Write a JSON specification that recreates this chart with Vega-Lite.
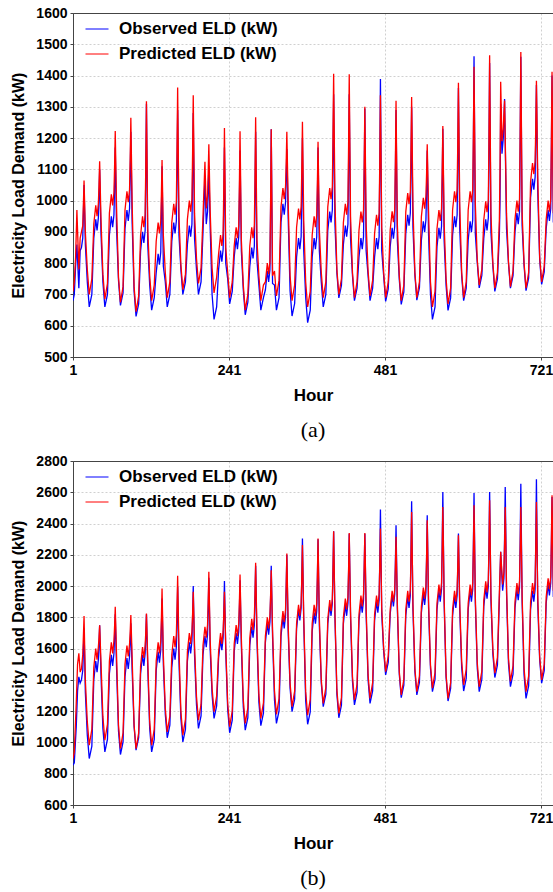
{
"$schema": "https://vega.github.io/schema/vega-lite/v6.json",
"background": "white",
"padding": {"left": 10, "top": 5, "right": 0, "bottom": 0},
"spacing": 11,
"resolve": {"scale": {"x": "independent", "y": "independent", "color": "independent"}, "legend": {"color": "independent"}},
"config": {
 "view": {"stroke": "#444444", "strokeWidth": 1},
 "font": "Liberation Sans",
 "axis": {"labelFont": "Liberation Sans", "labelFontSize": 14, "labelFontWeight": "bold", "labelColor": "black", "titleFont": "Liberation Sans", "titleFontSize": 17, "titleFontWeight": "bold", "titleColor": "black", "domainColor": "#444444", "tickColor": "#444444", "gridColor": "#d0d0d0", "gridDash": [2, 2], "tickSize": 3, "labelPadding": 3, "titlePadding": 10, "labelFlush": false, "labelOverlap": false, "format": "d"},
 "axisY": {"titleFontSize": 16, "titlePadding": 9},
 "legend": {"orient": "none", "legendX": 12, "legendY": 4, "padding": 0, "symbolType": "stroke", "symbolSize": 529, "symbolStrokeWidth": 1, "labelFont": "Liberation Sans", "labelFontSize": 17, "labelFontWeight": "bold", "labelColor": "black", "labelOffset": 10, "rowPadding": 5, "title": null}
},
"datasets": {
"a": [
{"h":1,"o":680,"p":710},{"h":3,"o":700,"p":740},{"h":5,"o":790,"p":820},{"h":7,"o":860,"p":970},{"h":10,"o":720,"p":780},{"h":12,"o":840,"p":880},{"h":14,"o":850,"p":900},{"h":16,"o":880,"p":920},{"h":17,"o":960,"p":990},{"h":18,"o":1050,"p":1064},{"h":20,"o":860,"p":900},{"h":23,"o":740,"p":780},
{"h":26,"o":660,"p":700},{"h":30,"o":700,"p":750},{"h":33,"o":880,"p":925},{"h":36,"o":940,"p":985},{"h":38,"o":905,"p":950},{"h":40,"o":945,"p":990},{"h":41,"o":1012,"p":1048},{"h":42,"o":1100,"p":1126},{"h":44,"o":900,"p":945},{"h":47,"o":740,"p":765},
{"h":50,"o":660,"p":685},{"h":54,"o":700,"p":735},{"h":57,"o":890,"p":960},{"h":60,"o":950,"p":1020},{"h":62,"o":915,"p":985},{"h":64,"o":955,"p":1025},{"h":65,"o":1049,"p":1111},{"h":66,"o":1170,"p":1223},{"h":68,"o":910,"p":980},{"h":71,"o":745,"p":755},
{"h":74,"o":665,"p":675},{"h":78,"o":705,"p":725},{"h":81,"o":910,"p":970},{"h":84,"o":970,"p":1030},{"h":86,"o":935,"p":995},{"h":88,"o":975,"p":1035},{"h":89,"o":1082,"p":1136},{"h":90,"o":1220,"p":1265},{"h":92,"o":930,"p":990},{"h":95,"o":710,"p":725},
{"h":98,"o":630,"p":645},{"h":102,"o":670,"p":695},{"h":105,"o":840,"p":890},{"h":108,"o":900,"p":950},{"h":110,"o":865,"p":915},{"h":112,"o":905,"p":955},{"h":113,"o":1084,"p":1116},{"h":114,"o":1310,"p":1318},{"h":116,"o":860,"p":910},{"h":119,"o":730,"p":760},
{"h":122,"o":650,"p":680},{"h":126,"o":690,"p":730},{"h":129,"o":770,"p":870},{"h":132,"o":830,"p":930},{"h":134,"o":795,"p":895},{"h":136,"o":835,"p":935},{"h":137,"o":956,"p":1020},{"h":138,"o":1110,"p":1130},{"h":140,"o":790,"p":890},{"h":143,"o":740,"p":770},
{"h":146,"o":660,"p":690},{"h":150,"o":700,"p":740},{"h":153,"o":870,"p":930},{"h":156,"o":930,"p":990},{"h":158,"o":895,"p":955},{"h":160,"o":935,"p":995},{"h":161,"o":1092,"p":1157},{"h":162,"o":1290,"p":1362},{"h":164,"o":890,"p":950},{"h":167,"o":780,"p":795},
{"h":170,"o":700,"p":715},{"h":174,"o":740,"p":765},{"h":177,"o":860,"p":940},{"h":180,"o":920,"p":1000},{"h":182,"o":885,"p":965},{"h":184,"o":925,"p":1005},{"h":185,"o":1082,"p":1152},{"h":186,"o":1280,"p":1337},{"h":188,"o":880,"p":960},{"h":191,"o":780,"p":815},
{"h":194,"o":700,"p":735},{"h":198,"o":740,"p":785},{"h":201,"o":900,"p":950},{"h":204,"o":1070,"p":1124},{"h":206,"o":925,"p":975},{"h":208,"o":965,"p":1015},{"h":209,"o":1030,"p":1089},{"h":210,"o":1110,"p":1180},{"h":212,"o":920,"p":970},{"h":215,"o":700,"p":785},
{"h":218,"o":620,"p":705},{"h":222,"o":660,"p":755},{"h":225,"o":780,"p":830},{"h":228,"o":840,"p":890},{"h":230,"o":805,"p":855},{"h":232,"o":845,"p":895},{"h":233,"o":989,"p":1044},{"h":234,"o":1170,"p":1232},{"h":236,"o":800,"p":850},{"h":239,"o":750,"p":770},
{"h":242,"o":670,"p":690},{"h":246,"o":710,"p":740},{"h":249,"o":820,"p":855},{"h":252,"o":880,"p":915},{"h":254,"o":845,"p":880},{"h":256,"o":885,"p":920},{"h":257,"o":1006,"p":1053},{"h":258,"o":1160,"p":1222},{"h":260,"o":840,"p":875},{"h":263,"o":715,"p":730},
{"h":266,"o":635,"p":650},{"h":270,"o":675,"p":700},{"h":273,"o":790,"p":855},{"h":276,"o":850,"p":915},{"h":278,"o":815,"p":880},{"h":280,"o":855,"p":920},{"h":281,"o":1017,"p":1073},{"h":282,"o":1220,"p":1267},{"h":284,"o":810,"p":875},{"h":287,"o":730,"p":760},
{"h":290,"o":650,"p":680},{"h":294,"o":690,"p":730},{"h":297,"o":715,"p":740},{"h":300,"o":775,"p":800},{"h":302,"o":740,"p":765},{"h":304,"o":780,"p":805},{"h":305,"o":979,"p":993},{"h":306,"o":1228,"p":1228},{"h":308,"o":735,"p":760},{"h":311,"o":730,"p":775},
{"h":314,"o":650,"p":695},{"h":318,"o":690,"p":745},{"h":321,"o":930,"p":980},{"h":324,"o":990,"p":1040},{"h":326,"o":955,"p":1005},{"h":328,"o":995,"p":1045},{"h":329,"o":1069,"p":1121},{"h":330,"o":1165,"p":1220},{"h":332,"o":950,"p":1000},{"h":335,"o":711,"p":760},
{"h":338,"o":631,"p":680},{"h":342,"o":671,"p":730},{"h":345,"o":820,"p":915},{"h":348,"o":880,"p":975},{"h":350,"o":845,"p":940},{"h":352,"o":885,"p":980},{"h":353,"o":1024,"p":1100},{"h":354,"o":1200,"p":1252},{"h":356,"o":840,"p":935},{"h":359,"o":690,"p":740},
{"h":362,"o":610,"p":660},{"h":366,"o":650,"p":710},{"h":369,"o":820,"p":890},{"h":372,"o":880,"p":950},{"h":374,"o":845,"p":915},{"h":376,"o":885,"p":955},{"h":377,"o":1010,"p":1057},{"h":378,"o":1170,"p":1188},{"h":380,"o":840,"p":910},{"h":383,"o":740,"p":770},
{"h":386,"o":660,"p":690},{"h":390,"o":700,"p":740},{"h":393,"o":905,"p":980},{"h":396,"o":965,"p":1040},{"h":398,"o":930,"p":1005},{"h":400,"o":970,"p":1045},{"h":401,"o":1134,"p":1205},{"h":402,"o":1340,"p":1406},{"h":404,"o":925,"p":1000},{"h":407,"o":769,"p":780},
{"h":410,"o":689,"p":700},{"h":414,"o":729,"p":750},{"h":417,"o":860,"p":930},{"h":420,"o":920,"p":990},{"h":422,"o":885,"p":955},{"h":424,"o":925,"p":995},{"h":425,"o":1109,"p":1176},{"h":426,"o":1340,"p":1404},{"h":428,"o":880,"p":950},{"h":431,"o":760,"p":770},
{"h":434,"o":680,"p":690},{"h":438,"o":720,"p":740},{"h":441,"o":820,"p":905},{"h":444,"o":880,"p":965},{"h":446,"o":845,"p":930},{"h":448,"o":885,"p":970},{"h":449,"o":1067,"p":1116},{"h":450,"o":1295,"p":1300},{"h":452,"o":840,"p":925},{"h":455,"o":760,"p":775},
{"h":458,"o":680,"p":695},{"h":462,"o":720,"p":745},{"h":465,"o":820,"p":895},{"h":468,"o":880,"p":955},{"h":470,"o":845,"p":920},{"h":472,"o":885,"p":960},{"h":473,"o":1109,"p":1127},{"h":474,"o":1389,"p":1337},{"h":476,"o":840,"p":915},{"h":479,"o":758,"p":770},
{"h":482,"o":678,"p":690},{"h":486,"o":718,"p":740},{"h":489,"o":853,"p":906},{"h":492,"o":913,"p":966},{"h":494,"o":878,"p":931},{"h":496,"o":918,"p":971},{"h":497,"o":1083,"p":1125},{"h":498,"o":1290,"p":1319},{"h":500,"o":873,"p":926},{"h":503,"o":748,"p":760},
{"h":506,"o":668,"p":680},{"h":510,"o":708,"p":730},{"h":513,"o":895,"p":964},{"h":516,"o":955,"p":1024},{"h":518,"o":920,"p":989},{"h":520,"o":960,"p":1029},{"h":521,"o":1110,"p":1162},{"h":522,"o":1300,"p":1331},{"h":524,"o":915,"p":984},{"h":527,"o":762,"p":770},
{"h":530,"o":682,"p":690},{"h":534,"o":722,"p":740},{"h":537,"o":874,"p":949},{"h":540,"o":934,"p":1009},{"h":542,"o":899,"p":974},{"h":544,"o":939,"p":1014},{"h":545,"o":1036,"p":1086},{"h":546,"o":1160,"p":1180},{"h":548,"o":894,"p":969},{"h":551,"o":700,"p":740},
{"h":554,"o":620,"p":660},{"h":558,"o":660,"p":710},{"h":561,"o":853,"p":910},{"h":564,"o":913,"p":970},{"h":566,"o":878,"p":935},{"h":568,"o":918,"p":975},{"h":569,"o":1056,"p":1091},{"h":570,"o":1230,"p":1239},{"h":572,"o":873,"p":930},{"h":575,"o":729,"p":750},
{"h":578,"o":649,"p":670},{"h":582,"o":689,"p":720},{"h":585,"o":890,"p":970},{"h":588,"o":950,"p":1030},{"h":590,"o":915,"p":995},{"h":592,"o":955,"p":1035},{"h":593,"o":1135,"p":1186},{"h":594,"o":1360,"p":1377},{"h":596,"o":910,"p":990},{"h":599,"o":760,"p":770},
{"h":602,"o":680,"p":690},{"h":606,"o":720,"p":740},{"h":609,"o":874,"p":970},{"h":612,"o":934,"p":1030},{"h":614,"o":899,"p":995},{"h":616,"o":939,"p":1035},{"h":617,"o":1172,"p":1209},{"h":618,"o":1462,"p":1428},{"h":620,"o":894,"p":990},{"h":623,"o":801,"p":810},
{"h":626,"o":721,"p":730},{"h":630,"o":761,"p":780},{"h":633,"o":880,"p":938},{"h":636,"o":940,"p":998},{"h":638,"o":905,"p":963},{"h":640,"o":945,"p":1003},{"h":641,"o":1165,"p":1208},{"h":642,"o":1440,"p":1465},{"h":644,"o":900,"p":958},{"h":647,"o":790,"p":800},
{"h":650,"o":710,"p":720},{"h":654,"o":750,"p":770},{"h":657,"o":890,"p":940},{"h":658,"o":1000,"p":1100},{"h":659,"o":1310,"p":1380},{"h":661,"o":1150,"p":1190},{"h":663,"o":1200,"p":1230},{"h":665,"o":1325,"p":1320},{"h":668,"o":910,"p":960},{"h":671,"o":800,"p":805},
{"h":674,"o":720,"p":725},{"h":678,"o":760,"p":775},{"h":681,"o":900,"p":940},{"h":684,"o":960,"p":1000},{"h":686,"o":925,"p":965},{"h":688,"o":965,"p":1005},{"h":689,"o":1185,"p":1214},{"h":690,"o":1460,"p":1475},{"h":692,"o":920,"p":960},{"h":695,"o":792,"p":800},
{"h":698,"o":712,"p":720},{"h":702,"o":752,"p":770},{"h":705,"o":1010,"p":1060},{"h":708,"o":1070,"p":1120},{"h":710,"o":1035,"p":1085},{"h":712,"o":1075,"p":1125},{"h":713,"o":1205,"p":1238},{"h":714,"o":1370,"p":1383},{"h":716,"o":1030,"p":1080},{"h":719,"o":812,"p":820},
{"h":722,"o":732,"p":740},{"h":726,"o":772,"p":790},{"h":729,"o":910,"p":940},{"h":732,"o":970,"p":1000},{"h":734,"o":935,"p":965},{"h":736,"o":975,"p":1005},{"h":737,"o":1164,"p":1185},{"h":738,"o":1400,"p":1412},{"h":740,"o":930,"p":960}
],
"b": [
{"h":1,"o":855,"p":897},{"h":3,"o":870,"p":940},{"h":6,"o":1100,"p":1250},{"h":8,"o":1330,"p":1500},{"h":10,"o":1420,"p":1570},{"h":12,"o":1380,"p":1450},{"h":14,"o":1400,"p":1470},{"h":16,"o":1460,"p":1560},{"h":17,"o":1580,"p":1680},{"h":18,"o":1730,"p":1808},{"h":20,"o":1320,"p":1400},{"h":23,"o":1047,"p":1133},
{"h":26,"o":897,"p":983},{"h":30,"o":977,"p":1083},{"h":33,"o":1400,"p":1480},{"h":36,"o":1520,"p":1600},{"h":38,"o":1450,"p":1530},{"h":40,"o":1530,"p":1610},{"h":41,"o":1624,"p":1668},{"h":42,"o":1750,"p":1750},{"h":44,"o":1440,"p":1520},{"h":47,"o":1090,"p":1165},
{"h":50,"o":940,"p":1015},{"h":54,"o":1020,"p":1115},{"h":57,"o":1440,"p":1520},{"h":60,"o":1560,"p":1640},{"h":62,"o":1490,"p":1570},{"h":64,"o":1570,"p":1650},{"h":65,"o":1677,"p":1743},{"h":66,"o":1820,"p":1868},{"h":68,"o":1480,"p":1560},{"h":71,"o":1073,"p":1111},
{"h":74,"o":923,"p":961},{"h":78,"o":1003,"p":1061},{"h":81,"o":1420,"p":1500},{"h":84,"o":1540,"p":1620},{"h":86,"o":1470,"p":1550},{"h":88,"o":1550,"p":1630},{"h":89,"o":1640,"p":1708},{"h":90,"o":1762,"p":1815},{"h":92,"o":1460,"p":1540},{"h":95,"o":1101,"p":1110},
{"h":98,"o":951,"p":960},{"h":102,"o":1031,"p":1060},{"h":105,"o":1440,"p":1490},{"h":108,"o":1560,"p":1610},{"h":110,"o":1490,"p":1540},{"h":112,"o":1570,"p":1620},{"h":113,"o":1677,"p":1707},{"h":114,"o":1820,"p":1825},{"h":116,"o":1480,"p":1530},{"h":119,"o":1090,"p":1133},
{"h":122,"o":940,"p":983},{"h":126,"o":1020,"p":1083},{"h":129,"o":1460,"p":1520},{"h":132,"o":1580,"p":1640},{"h":134,"o":1510,"p":1570},{"h":136,"o":1590,"p":1650},{"h":137,"o":1733,"p":1795},{"h":138,"o":1921,"p":1985},{"h":140,"o":1500,"p":1560},{"h":143,"o":1180,"p":1218},
{"h":146,"o":1030,"p":1068},{"h":150,"o":1110,"p":1168},{"h":153,"o":1480,"p":1560},{"h":156,"o":1600,"p":1680},{"h":158,"o":1530,"p":1610},{"h":160,"o":1610,"p":1690},{"h":161,"o":1778,"p":1854},{"h":162,"o":1996,"p":2066},{"h":164,"o":1520,"p":1600},{"h":167,"o":1154,"p":1197},
{"h":170,"o":1004,"p":1047},{"h":174,"o":1084,"p":1147},{"h":177,"o":1520,"p":1580},{"h":180,"o":1640,"p":1700},{"h":182,"o":1570,"p":1630},{"h":184,"o":1650,"p":1710},{"h":185,"o":1802,"p":1819},{"h":186,"o":2000,"p":1964},{"h":188,"o":1560,"p":1620},{"h":191,"o":1240,"p":1293},
{"h":194,"o":1090,"p":1143},{"h":198,"o":1170,"p":1243},{"h":201,"o":1560,"p":1620},{"h":204,"o":1680,"p":1740},{"h":206,"o":1610,"p":1670},{"h":208,"o":1690,"p":1750},{"h":209,"o":1848,"p":1898},{"h":210,"o":2053,"p":2091},{"h":212,"o":1600,"p":1660},{"h":215,"o":1304,"p":1347},
{"h":218,"o":1154,"p":1197},{"h":222,"o":1234,"p":1297},{"h":225,"o":1540,"p":1580},{"h":228,"o":1660,"p":1700},{"h":230,"o":1590,"p":1630},{"h":232,"o":1670,"p":1710},{"h":233,"o":1827,"p":1819},{"h":234,"o":2032,"p":1964},{"h":236,"o":1580,"p":1620},{"h":239,"o":1212,"p":1251},
{"h":242,"o":1062,"p":1101},{"h":246,"o":1142,"p":1201},{"h":249,"o":1580,"p":1630},{"h":252,"o":1700,"p":1750},{"h":254,"o":1630,"p":1680},{"h":256,"o":1710,"p":1760},{"h":257,"o":1852,"p":1896},{"h":258,"o":2038,"p":2074},{"h":260,"o":1620,"p":1670},{"h":263,"o":1229,"p":1272},
{"h":266,"o":1079,"p":1122},{"h":270,"o":1159,"p":1222},{"h":273,"o":1620,"p":1670},{"h":276,"o":1740,"p":1790},{"h":278,"o":1670,"p":1720},{"h":280,"o":1750,"p":1800},{"h":281,"o":1916,"p":1952},{"h":282,"o":2130,"p":2149},{"h":284,"o":1660,"p":1710},{"h":287,"o":1257,"p":1304},
{"h":290,"o":1107,"p":1154},{"h":294,"o":1187,"p":1254},{"h":297,"o":1640,"p":1680},{"h":300,"o":1760,"p":1800},{"h":302,"o":1690,"p":1730},{"h":304,"o":1770,"p":1810},{"h":305,"o":1927,"p":1936},{"h":306,"o":2130,"p":2102},{"h":308,"o":1680,"p":1720},{"h":311,"o":1272,"p":1330},
{"h":314,"o":1122,"p":1180},{"h":318,"o":1202,"p":1280},{"h":321,"o":1680,"p":1720},{"h":324,"o":1800,"p":1840},{"h":326,"o":1730,"p":1770},{"h":328,"o":1810,"p":1850},{"h":329,"o":1980,"p":2006},{"h":330,"o":2200,"p":2208},{"h":332,"o":1720,"p":1760},{"h":335,"o":1347,"p":1379},
{"h":338,"o":1197,"p":1229},{"h":342,"o":1277,"p":1329},{"h":345,"o":1730,"p":1760},{"h":348,"o":1850,"p":1880},{"h":350,"o":1780,"p":1810},{"h":352,"o":1860,"p":1890},{"h":353,"o":2054,"p":2052},{"h":354,"o":2304,"p":2262},{"h":356,"o":1770,"p":1800},{"h":359,"o":1266,"p":1325},
{"h":362,"o":1116,"p":1175},{"h":366,"o":1196,"p":1275},{"h":369,"o":1710,"p":1760},{"h":372,"o":1830,"p":1880},{"h":374,"o":1760,"p":1810},{"h":376,"o":1840,"p":1890},{"h":377,"o":2042,"p":2071},{"h":378,"o":2300,"p":2304},{"h":380,"o":1750,"p":1800},{"h":383,"o":1379,"p":1400},
{"h":386,"o":1229,"p":1250},{"h":390,"o":1309,"p":1350},{"h":393,"o":1760,"p":1790},{"h":396,"o":1880,"p":1910},{"h":398,"o":1810,"p":1840},{"h":400,"o":1890,"p":1920},{"h":401,"o":2092,"p":2108},{"h":402,"o":2351,"p":2351},{"h":404,"o":1800,"p":1830},{"h":407,"o":1308,"p":1336},
{"h":410,"o":1158,"p":1186},{"h":414,"o":1238,"p":1286},{"h":417,"o":1760,"p":1800},{"h":420,"o":1880,"p":1920},{"h":422,"o":1810,"p":1850},{"h":424,"o":1890,"p":1930},{"h":425,"o":2085,"p":2109},{"h":426,"o":2335,"p":2340},{"h":428,"o":1800,"p":1840},{"h":431,"o":1390,"p":1422},
{"h":434,"o":1240,"p":1272},{"h":438,"o":1320,"p":1372},{"h":441,"o":1780,"p":1820},{"h":444,"o":1900,"p":1940},{"h":446,"o":1830,"p":1870},{"h":448,"o":1910,"p":1950},{"h":449,"o":2096,"p":2120},{"h":450,"o":2335,"p":2340},{"h":452,"o":1820,"p":1860},{"h":455,"o":1400,"p":1432},
{"h":458,"o":1250,"p":1282},{"h":462,"o":1330,"p":1382},{"h":465,"o":1780,"p":1820},{"h":468,"o":1900,"p":1940},{"h":470,"o":1830,"p":1870},{"h":472,"o":1910,"p":1950},{"h":473,"o":2165,"p":2133},{"h":474,"o":2489,"p":2368},{"h":476,"o":1820,"p":1860},{"h":479,"o":1582,"p":1603},
{"h":482,"o":1432,"p":1453},{"h":486,"o":1512,"p":1553},{"h":489,"o":1820,"p":1850},{"h":492,"o":1940,"p":1970},{"h":494,"o":1870,"p":1900},{"h":496,"o":1950,"p":1980},{"h":497,"o":2142,"p":2125},{"h":498,"o":2389,"p":2315},{"h":500,"o":1860,"p":1890},{"h":503,"o":1437,"p":1454},
{"h":506,"o":1287,"p":1304},{"h":510,"o":1367,"p":1404},{"h":513,"o":1810,"p":1850},{"h":516,"o":1930,"p":1970},{"h":518,"o":1860,"p":1900},{"h":520,"o":1940,"p":1980},{"h":521,"o":2206,"p":2197},{"h":522,"o":2543,"p":2474},{"h":524,"o":1850,"p":1890},{"h":527,"o":1454,"p":1475},
{"h":530,"o":1304,"p":1325},{"h":534,"o":1384,"p":1425},{"h":537,"o":1830,"p":1870},{"h":540,"o":1950,"p":1990},{"h":542,"o":1880,"p":1920},{"h":544,"o":1960,"p":2000},{"h":545,"o":2176,"p":2184},{"h":546,"o":2453,"p":2421},{"h":548,"o":1870,"p":1910},{"h":551,"o":1475,"p":1497},
{"h":554,"o":1325,"p":1347},{"h":558,"o":1405,"p":1447},{"h":561,"o":1850,"p":1890},{"h":564,"o":1970,"p":2010},{"h":566,"o":1900,"p":1940},{"h":568,"o":1980,"p":2020},{"h":569,"o":2254,"p":2233},{"h":570,"o":2602,"p":2506},{"h":572,"o":1890,"p":1930},{"h":575,"o":1415,"p":1432},
{"h":578,"o":1265,"p":1282},{"h":582,"o":1345,"p":1382},{"h":585,"o":1810,"p":1850},{"h":588,"o":1930,"p":1970},{"h":590,"o":1860,"p":1900},{"h":592,"o":1940,"p":1980},{"h":593,"o":2113,"p":2130},{"h":594,"o":2336,"p":2325},{"h":596,"o":1850,"p":1890},{"h":599,"o":1479,"p":1518},
{"h":602,"o":1329,"p":1368},{"h":606,"o":1409,"p":1468},{"h":609,"o":1850,"p":1890},{"h":612,"o":1970,"p":2010},{"h":614,"o":1900,"p":1940},{"h":616,"o":1980,"p":2020},{"h":617,"o":2252,"p":2238},{"h":618,"o":2596,"p":2517},{"h":620,"o":1890,"p":1930},{"h":623,"o":1475,"p":1507},
{"h":626,"o":1325,"p":1357},{"h":630,"o":1405,"p":1457},{"h":633,"o":1870,"p":1910},{"h":636,"o":1990,"p":2030},{"h":638,"o":1920,"p":1960},{"h":640,"o":2000,"p":2040},{"h":641,"o":2265,"p":2264},{"h":642,"o":2602,"p":2549},{"h":644,"o":1910,"p":1950},{"h":647,"o":1565,"p":1593},
{"h":650,"o":1415,"p":1443},{"h":654,"o":1495,"p":1543},{"h":657,"o":1920,"p":1960},{"h":659,"o":2220,"p":2220},{"h":662,"o":1970,"p":2010},{"h":664,"o":2050,"p":2090},{"h":665,"o":2308,"p":2272},{"h":666,"o":2634,"p":2506},{"h":668,"o":1960,"p":2000},{"h":671,"o":1507,"p":1540},
{"h":674,"o":1357,"p":1390},{"h":678,"o":1437,"p":1490},{"h":681,"o":1860,"p":1900},{"h":684,"o":1980,"p":2020},{"h":686,"o":1910,"p":1950},{"h":688,"o":1990,"p":2030},{"h":689,"o":2284,"p":2239},{"h":690,"o":2655,"p":2506},{"h":692,"o":1900,"p":1940},{"h":695,"o":1432,"p":1475},
{"h":698,"o":1282,"p":1325},{"h":702,"o":1362,"p":1425},{"h":705,"o":1850,"p":1900},{"h":708,"o":1970,"p":2020},{"h":710,"o":1900,"p":1950},{"h":712,"o":1980,"p":2030},{"h":713,"o":2291,"p":2253},{"h":714,"o":2683,"p":2538},{"h":716,"o":1890,"p":1940},{"h":719,"o":1529,"p":1550},
{"h":722,"o":1379,"p":1400},{"h":726,"o":1459,"p":1500},{"h":729,"o":1890,"p":1930},{"h":732,"o":2010,"p":2050},{"h":734,"o":1940,"p":1980},{"h":736,"o":2020,"p":2060},{"h":737,"o":2262,"p":2289},{"h":738,"o":2570,"p":2581},{"h":740,"o":1930,"p":1970}
]
},
"vconcat": [
{
 "width": 480, "height": 344,
 "data": {"name": "a"},
 "transform": [{"fold": ["o", "p"], "as": ["s", "v"]}],
 "mark": {"type": "line", "strokeWidth": 1.3, "clip": true},
 "encoding": {
  "x": {"field": "h", "type": "quantitative", "scale": {"domain": [1, 739.5], "nice": false, "zero": false}, "axis": {"values": [1, 241, 481, 721], "title": "Hour"}},
  "y": {"field": "v", "type": "quantitative", "scale": {"domain": [500, 1600], "nice": false, "zero": false}, "axis": {"values": [500, 600, 700, 800, 900, 1000, 1100, 1200, 1300, 1400, 1500, 1600], "title": "Electricity Load Demand (kW)", "gridColor": {"condition": {"test": "datum.value == 1600", "value": "#444444"}, "value": "#d0d0d0"}, "gridDash": {"condition": {"test": "datum.value == 1600", "value": []}, "value": [2, 2]}}},
  "color": {"field": "s", "type": "nominal", "scale": {"domain": ["o", "p"], "range": ["#0000ff", "#ff0000"]}, "legend": {"labelExpr": "datum.value == 'o' ? 'Observed ELD (kW)' : 'Predicted ELD (kW)'"}}
 },
 "title": {"text": "(a)", "orient": "bottom", "anchor": "middle", "font": "Liberation Serif", "fontSize": 22, "fontWeight": "normal", "color": "black", "offset": 17}
},
{
 "width": 480, "height": 344,
 "data": {"name": "b"},
 "transform": [{"fold": ["o", "p"], "as": ["s", "v"]}],
 "mark": {"type": "line", "strokeWidth": 1.3, "clip": true},
 "encoding": {
  "x": {"field": "h", "type": "quantitative", "scale": {"domain": [1, 739.5], "nice": false, "zero": false}, "axis": {"values": [1, 241, 481, 721], "title": "Hour"}},
  "y": {"field": "v", "type": "quantitative", "scale": {"domain": [600, 2800], "nice": false, "zero": false}, "axis": {"values": [600, 800, 1000, 1200, 1400, 1600, 1800, 2000, 2200, 2400, 2600, 2800], "title": "Electricity Load Demand (kW)", "gridColor": {"condition": {"test": "datum.value == 2800", "value": "#444444"}, "value": "#d0d0d0"}, "gridDash": {"condition": {"test": "datum.value == 2800", "value": []}, "value": [2, 2]}}},
  "color": {"field": "s", "type": "nominal", "scale": {"domain": ["o", "p"], "range": ["#0000ff", "#ff0000"]}, "legend": {"labelExpr": "datum.value == 'o' ? 'Observed ELD (kW)' : 'Predicted ELD (kW)'"}}
 },
 "title": {"text": "(b)", "orient": "bottom", "anchor": "middle", "font": "Liberation Serif", "fontSize": 22, "fontWeight": "normal", "color": "black", "offset": 17}
}
]
}
